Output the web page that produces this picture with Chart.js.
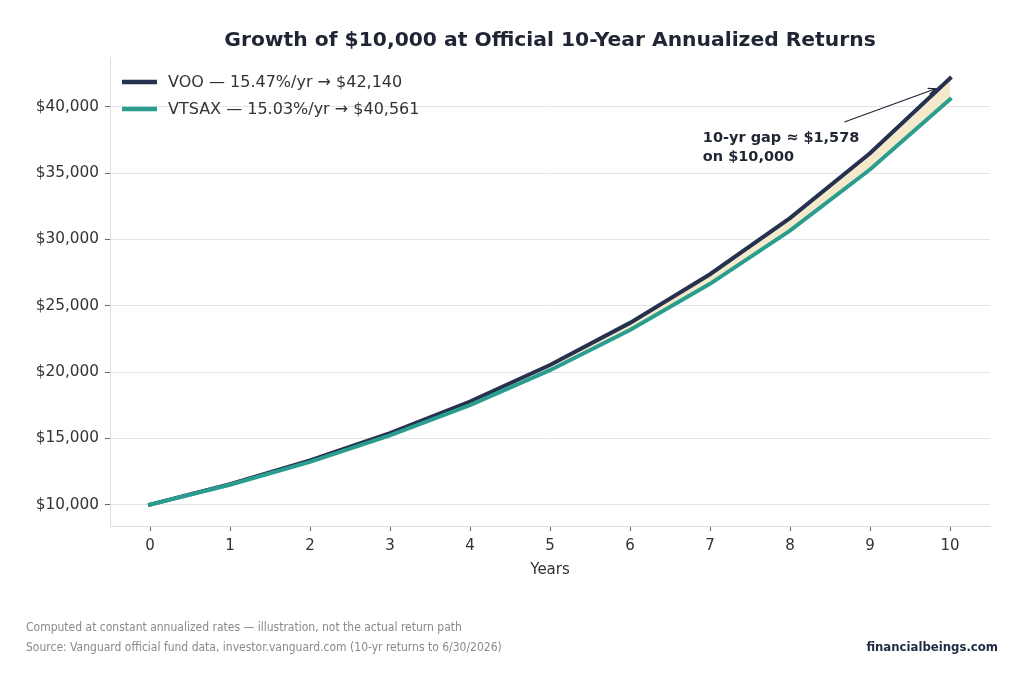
<!DOCTYPE html>
<html>
<head>
<meta charset="utf-8">
<script src="https://cdn.jsdelivr.net/npm/chart.js@4"></script>
<style>
  html, body { margin: 0; padding: 0; background: #fff; }
  canvas { display: block; }
</style>
</head>
<body>
<canvas id="growth" width="1024" height="683"></canvas>
<script>
// data
const years = [0, 1, 2, 3, 4, 5, 6, 7, 8, 9, 10];
const vooValues = [10000, 11547, 13333, 15396, 17778, 20528, 23704, 27371, 31605, 36494, 42140];
const vtsaxValues = [10000, 11503, 13232, 15221, 17508, 20140, 23167, 26649, 30654, 35261, 40561];
const seriesLabels = ['VOO — 15.47%/yr → $42,140', 'VTSAX — 15.03%/yr → $40,561'];
const yTicks = [10000, 15000, 20000, 25000, 30000, 35000, 40000];

const navy = '#26304f';
const teal = '#2a9d8f';
const cream = '#f4eacb';
const font = '"DejaVu Sans", sans-serif';

const extras = {
  id: 'extras',
  afterDraw(chart) {
    const ctx = chart.ctx;
    const xs = chart.scales.x, ys = chart.scales.y;
    ctx.save();

    // title
    ctx.fillStyle = '#1f2533';
    ctx.font = 'bold 20.3px ' + font;
    ctx.textAlign = 'center';
    ctx.textBaseline = 'middle';
    ctx.fillText('Growth of $10,000 at Official 10-Year Annualized Returns', 550, 41);

    // legend
    const cols = [navy, teal];
    ctx.textAlign = 'left';
    ctx.font = '16px ' + font;
    seriesLabels.forEach((lab, i) => {
      const y = 82 + i * 27;
      ctx.strokeStyle = cols[i];
      ctx.lineWidth = 4.5;
      ctx.beginPath();
      ctx.moveTo(122, y);
      ctx.lineTo(157, y);
      ctx.stroke();
      ctx.fillStyle = '#333';
      ctx.fillText(lab, 168, y + 1);
    });

    // annotation
    const tipX = xs.getPixelForValue(9.82), tipY = ys.getPixelForValue(41350);
    const fromX = xs.getPixelForValue(8.68), fromY = ys.getPixelForValue(38850);
    ctx.strokeStyle = '#1f2533';
    ctx.lineWidth = 1.2;
    ctx.beginPath();
    ctx.moveTo(fromX, fromY);
    ctx.lineTo(tipX, tipY);
    ctx.stroke();
    const a = Math.atan2(tipY - fromY, tipX - fromX);
    ctx.beginPath();
    ctx.moveTo(tipX - 8 * Math.cos(a - 0.4), tipY - 8 * Math.sin(a - 0.4));
    ctx.lineTo(tipX, tipY);
    ctx.lineTo(tipX - 8 * Math.cos(a + 0.4), tipY - 8 * Math.sin(a + 0.4));
    ctx.stroke();
    const tx = xs.getPixelForValue(6.91);
    ctx.fillStyle = '#1f2533';
    ctx.font = 'bold 14.5px ' + font;
    ctx.textBaseline = 'alphabetic';
    ctx.fillText('10-yr gap ≈ $1,578', tx, 142);
    ctx.fillText('on $10,000', tx, 161);

    // footer
    ctx.fillStyle = '#8a8a8a';
    ctx.font = '12px "DejaVu Sans Condensed", sans-serif';
    ctx.fillText('Computed at constant annualized rates — illustration, not the actual return path', 26, 631);
    ctx.fillText('Source: Vanguard official fund data, investor.vanguard.com (10-yr returns to 6/30/2026)', 26, 651);
    ctx.fillStyle = '#1f2a44';
    ctx.font = 'bold 13px "DejaVu Sans Condensed", sans-serif';
    ctx.textAlign = 'right';
    ctx.fillText('financialbeings.com', 998, 651);
    ctx.restore();
  }
};

new Chart(document.getElementById('growth'), {
  type: 'line',
  data: {
    labels: years,
    datasets: [
      {
        label: 'VTSAX',
        data: vtsaxValues,
        borderColor: teal,
        borderWidth: 4,
        borderCapStyle: 'square',
        pointRadius: 0,
        fill: '+1',
        backgroundColor: cream
      },
      {
        label: 'VOO',
        data: vooValues,
        borderColor: navy,
        borderWidth: 4,
        borderCapStyle: 'square',
        pointRadius: 0,
        fill: false
      }
    ]
  },
  options: {
    responsive: false,
    animation: false,
    layout: { padding: { top: 57, right: 34, left: 0, bottom: 100 } },
    plugins: {
      legend: { display: false },
      tooltip: { enabled: false },
      filler: { drawTime: 'beforeDatasetsDraw' }
    },
    scales: {
      x: {
        type: 'category',
        offset: true,
        afterFit(s) { s.height = 57; },
        grid: { drawOnChartArea: false, tickLength: 5, tickColor: '#666' },
        border: { color: '#d9dce3' },
        ticks: { color: '#333', font: { family: font, size: 15 }, padding: 6, maxRotation: 0 },
        title: { display: true, text: 'Years', color: '#333', font: { family: font, size: 15 }, padding: 4 }
      },
      y: {
        min: 8393,
        max: 43747,
        afterFit(s) { s.width = 110; },
        afterBuildTicks(s) { s.ticks = yTicks.map(v => ({ value: v })); },
        grid: { color: '#e2e4eb', tickLength: 5, tickColor: '#666' },
        border: { color: '#d9dce3' },
        ticks: {
          color: '#333',
          font: { family: font, size: 15.3 },
          padding: 6,
          callback: v => '$' + v.toLocaleString('en-US')
        }
      }
    }
  },
  plugins: [extras]
});
</script>
</body>
</html>
